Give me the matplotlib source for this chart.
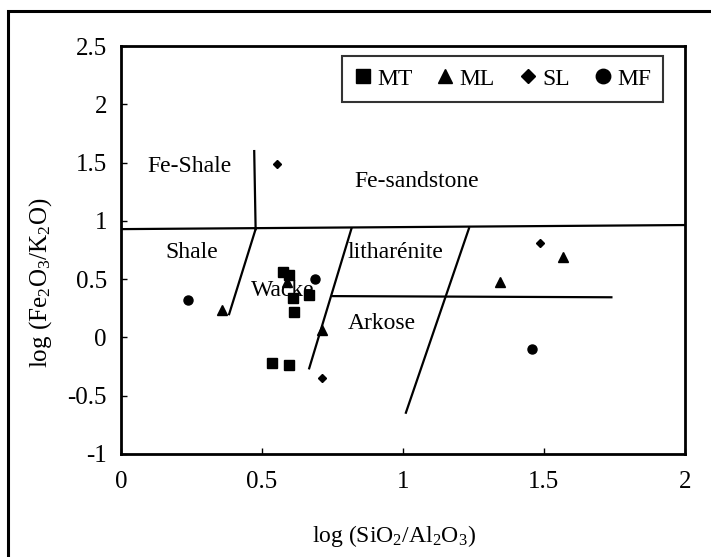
import matplotlib
matplotlib.use('Agg')
import matplotlib.pyplot as plt
from matplotlib.patches import Rectangle

plt.rcParams['font.family'] = ['Liberation Serif', 'DejaVu Serif']
plt.rcParams['mathtext.fontset'] = 'custom'
plt.rcParams['mathtext.rm'] = 'Liberation Serif'
plt.rcParams['mathtext.it'] = 'Liberation Serif:italic'

# data
mt_x = [0.576, 0.597, 0.609, 0.668, 0.615, 0.537, 0.596]
mt_y = [0.563, 0.535, 0.335, 0.364, 0.220, -0.222, -0.237]
ml_x = [0.588, 0.357, 0.712, 1.346, 1.568]
ml_y = [0.478, 0.235, 0.063, 0.478, 0.687]
sl_x = [0.553, 0.715, 1.488]
sl_y = [1.487, -0.346, 0.812]
mf_x = [0.237, 0.688, 1.460]
mf_y = [0.320, 0.498, -0.100]

# classification boundaries (Herron 1988)
boundaries = [
    ([0.0, 2.0], [0.93, 0.965]),
    ([0.473, 0.478], [1.60, 0.93]),
    ([0.478, 0.384], [0.93, 0.20]),
    ([0.818, 0.668], [0.935, -0.265]),
    ([1.235, 1.011], [0.938, -0.646]),
    ([0.753, 1.74], [0.355, 0.345]),
]
field_names = ['Fe-Shale', 'Fe-sandstone', 'Shale', 'litharénite', 'Wacke', 'Arkose']
field_x = [0.245, 1.049, 0.251, 0.975, 0.576, 0.924]
field_y = [1.465, 1.335, 0.727, 0.733, 0.407, 0.120]

fig = plt.figure(figsize=(7.11, 5.57), dpi=100)
ax = fig.add_axes([0.170, 0.185, 0.793, 0.732])

# outer frame of the figure (cut off on the right and bottom)
fig.patches.append(Rectangle((8 / 711, -0.1), 1.2, 1 - 11 / 557 + 0.1,
                             transform=fig.transFigure, fill=False,
                             edgecolor='black', linewidth=2.2))

for bx, by in boundaries:
    ax.plot(bx, by, color='black', linewidth=1.6, zorder=2)

ax.plot(mt_x, mt_y, 's', color='black', markersize=6.5, linestyle='none', label='MT', zorder=3)
ax.plot(ml_x, ml_y, '^', color='black', markersize=6.5, linestyle='none', label='ML', zorder=3)
ax.plot(sl_x, sl_y, 'D', color='black', markersize=4.3, linestyle='none', label='SL', zorder=3)
ax.plot(mf_x, mf_y, 'o', color='black', markersize=6.5, linestyle='none', label='MF', zorder=3)

for name, tx, ty in zip(field_names, field_x, field_y):
    ax.text(tx, ty, name, fontsize=17, ha='center', va='center', zorder=4)

ax.set_xlim(0, 2)
ax.set_ylim(-1, 2.5)
ax.set_xticks([0, 0.5, 1, 1.5, 2])
ax.set_xticklabels(['0', '0.5', '1', '1.5', '2'])
ax.set_yticks([-1, -0.5, 0, 0.5, 1, 1.5, 2, 2.5])
ax.set_yticklabels(['-1', '-0.5', '0', '0.5', '1', '1.5', '2', '2.5'])
ax.tick_params(direction='in', length=4, width=1, labelsize=18)
ax.tick_params(axis='x', pad=12)
ax.tick_params(axis='y', pad=10)
for sp in ax.spines.values():
    sp.set_linewidth(2)

ax.set_xlabel(r'log (SiO$_2$/Al$_2$O$_3$)', fontsize=17)
ax.set_ylabel(r'log (Fe$_2$O$_3$/K$_2$O)', fontsize=18)
ax.xaxis.set_label_coords(0.484, -0.17)
ax.yaxis.set_label_coords(-0.118, 0.42)

leg = ax.legend(loc='upper right', bbox_to_anchor=(0.961, 0.975), ncol=4,
                fontsize=17, frameon=True, fancybox=False, markerscale=1.6,
                handlelength=0.8, handletextpad=0.2, columnspacing=1.0,
                borderpad=0.5, borderaxespad=0)
leg.get_frame().set_edgecolor('black')
leg.get_frame().set_linewidth(1.5)

fig.savefig('out.png', dpi=100)
